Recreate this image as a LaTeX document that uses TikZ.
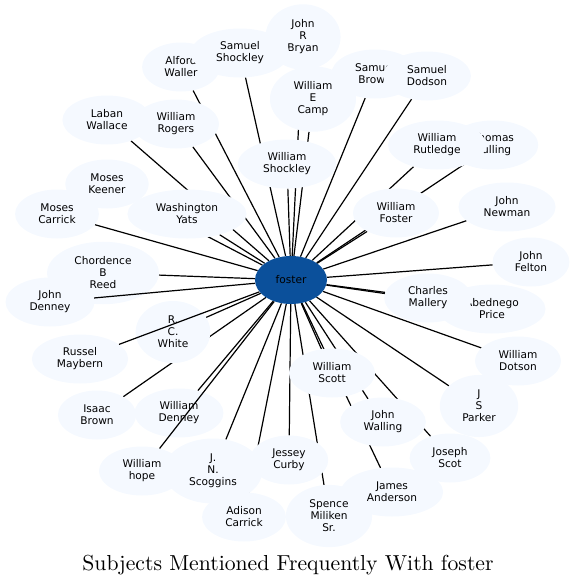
\documentclass[tikz,border=0pt]{standalone}
\usepackage{fontspec}
\newfontfamily\namefont{DejaVu Sans}
\newfontfamily\titlefont{lmroman10-regular.otf}
\usetikzlibrary{shapes.geometric,backgrounds}
\definecolor{bubble}{RGB}{245,249,255}
\definecolor{hub}{RGB}{11,80,155}

\begin{document}
\begin{tikzpicture}[x=1pt,y=-1pt,
    person/.style={ellipse,fill=bubble,inner xsep=11pt,inner ysep=6pt,minimum height=49pt,
      align=center,font=\namefont\fontsize{10.6}{12}\selectfont},
    link/.style={line width=1.2pt}]
    \useasboundingbox (0,0) rectangle (577,587);
    \node[person,fill=hub,inner xsep=8pt,minimum width=72pt,minimum height=48pt] (foster) at (291,280) {foster};
    % later names lie on top of earlier ones
    \foreach \nm/\x/\y/\txt in {jbryan/303/37/{John\\R\\Bryan}, awaller/181/67/{Alford\\Waller},
      sshockley/240/53/{Samuel\\Shockley}, wcamp/313/99/{William\\E\\Camp},
      sbrown/375/74/{Samuel\\Brown}, sdodson/427/76/{Samuel\\Dodson},
      lwallace/107/120/{Laban\\Wallace}, wrogers/176/124/{William\\Rogers},
      wshockley/287/164/{William\\Shockley}, tculling/493/145/{Thomas\\Culling},
      wrutledge/437/145/{William\\Rutledge}, mkeener/107/184/{Moses\\Keener},
      wyats/187/214/{Washington\\Yats}, mcarrick/57/214/{Moses\\Carrick},
      wfoster/396/213/{William\\Foster}, jnewman/507/207/{John\\Newman},
      jfelton/531/262/{John\\Felton}, creed/103/273/{Chordence\\B\\Reed},
      jdenney/50/302/{John\\Denney}, aprice/492/309/{Abednego\\Price},
      cmallery/428/298/{Charles\\Mallery}, rcwhite/173/332/{R.\\C.\\White},
      rmaybern/80/359/{Russel\\Maybern}, wdotson/518/361/{William\\Dotson},
      wscott/332/373/{William\\Scott}, ibrown/97/415/{Isaac\\Brown},
      wdenney/179/413/{William\\Denney}, jsparker/479/406/{J\\S\\Parker},
      jwalling/383/422/{John\\Walling}, jcurby/289/460/{Jessey\\Curby},
      whope/142/471/{William\\hope}, jnscoggins/213/471/{J.\\N.\\Scoggins},
      jscot/450/458/{Joseph\\Scot}, janderson/392/492/{James\\Anderson},
      acarrick/244/517/{Adison\\Carrick}, smiliken/329/516/{Spence\\Miliken\\Sr.}}
      \node[person] (\nm) at (\x,\y) {\txt};
    \begin{scope}[on background layer]
      \foreach \nm in {jbryan,awaller,sshockley,wcamp,sbrown,sdodson,lwallace,wrogers,
        wshockley,tculling,wrutledge,mkeener,wyats,mcarrick,wfoster,jnewman,jfelton,
        creed,aprice,cmallery,rcwhite,wdotson,wscott,ibrown,wdenney,jsparker,
        jwalling,jcurby,jnscoggins,jscot,janderson,acarrick,smiliken}
        \draw[link] (foster) -- (\nm);
    \end{scope}
    % these three run over a neighbour
    \foreach \nm in {jdenney,rmaybern,whope} \draw[link] (foster) -- (\nm);
    \node[anchor=base,font=\titlefont\fontsize{21.7}{24}\selectfont] (title) at (288,570) {Subjects Mentioned Frequently With foster};
\end{tikzpicture}
\end{document}
